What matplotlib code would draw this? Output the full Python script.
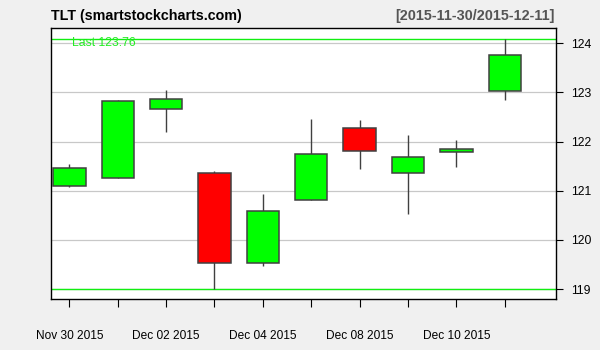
import matplotlib
matplotlib.use('Agg')
import matplotlib.pyplot as plt
from matplotlib.patches import Rectangle

plt.rcParams['font.family'] = ['Liberation Sans', 'DejaVu Sans']

# daily OHLC for TLT
dates = ['Nov 30 2015', 'Dec 01 2015', 'Dec 02 2015', 'Dec 03 2015', 'Dec 04 2015',
         'Dec 07 2015', 'Dec 08 2015', 'Dec 09 2015', 'Dec 10 2015', 'Dec 11 2015']
opens = [121.09, 121.26, 122.66, 121.36, 119.53, 120.82, 122.27, 121.36, 121.78, 123.02]
highs = [121.55, 122.85, 123.05, 121.40, 120.94, 122.46, 122.44, 122.14, 122.03, 124.09]
lows = [121.07, 121.26, 122.19, 119.00, 119.47, 120.82, 121.45, 120.52, 121.49, 122.85]
closes = [121.46, 122.82, 122.86, 119.53, 120.59, 121.75, 121.80, 121.68, 121.85, 123.76]
y_ticks = [119, 120, 121, 122, 123, 124]

fig = plt.figure(figsize=(6, 3.5), dpi=100, facecolor='#f0f0f0')
ax = fig.add_axes([51 / 600, 51 / 350, 505 / 600, 271 / 350])
ax.set_facecolor('white')

# horizontal grid
for v in y_ticks:
    ax.axhline(v, color='#c8c8c8', lw=0.9, zorder=1)

# range lines + last value
ax.axhline(max(highs), color='#11ee11', lw=1.0, zorder=2)
ax.axhline(min(lows), color='#11ee11', lw=1.0, zorder=2)
ax.text(0.042, 124, 'Last %.2f' % closes[-1], transform=ax.get_yaxis_transform(),
        color='#22ee22', fontsize=8.8, va='center', ha='left', zorder=3)

w = 0.67
for i in range(len(dates)):
    o, h, l, c = opens[i], highs[i], lows[i], closes[i]
    col = '#00ff00' if c >= o else '#ff0000'
    ax.vlines(i, l, h, color='#404040', lw=1.0, zorder=3)
    ax.add_patch(Rectangle((i - w / 2, min(o, c)), w, abs(c - o),
                           facecolor=col, edgecolor='#404040', lw=1.1, zorder=4))

ax.set_xlim(-0.38, 10.06)
ax.set_ylim(118.80, 124.31)

ax.set_xticks(range(len(dates)))
ax.set_xticklabels([d if i % 2 == 0 else '' for i, d in enumerate(dates)])
ax.tick_params(axis='x', direction='out', length=5.5, width=0.8, pad=17, labelsize=8.6)

ax.yaxis.tick_right()
ax.set_yticks(y_ticks)
ax.tick_params(axis='y', direction='out', length=5, width=0.8, pad=6, labelsize=8.8)

for s in ax.spines.values():
    s.set_color('black')
    s.set_linewidth(1.0)

fig.text(51 / 600, 1 - 15.7 / 350, 'TLT (smartstockcharts.com)', fontsize=10.3,
         fontweight='bold', va='center', ha='left')
fig.text(555 / 600, 1 - 15.7 / 350, '[2015-11-30/2015-12-11]', fontsize=10.4,
         fontweight='bold', va='center', ha='right', color='#555555')

fig.savefig('out.png', dpi=100, facecolor=fig.get_facecolor())
